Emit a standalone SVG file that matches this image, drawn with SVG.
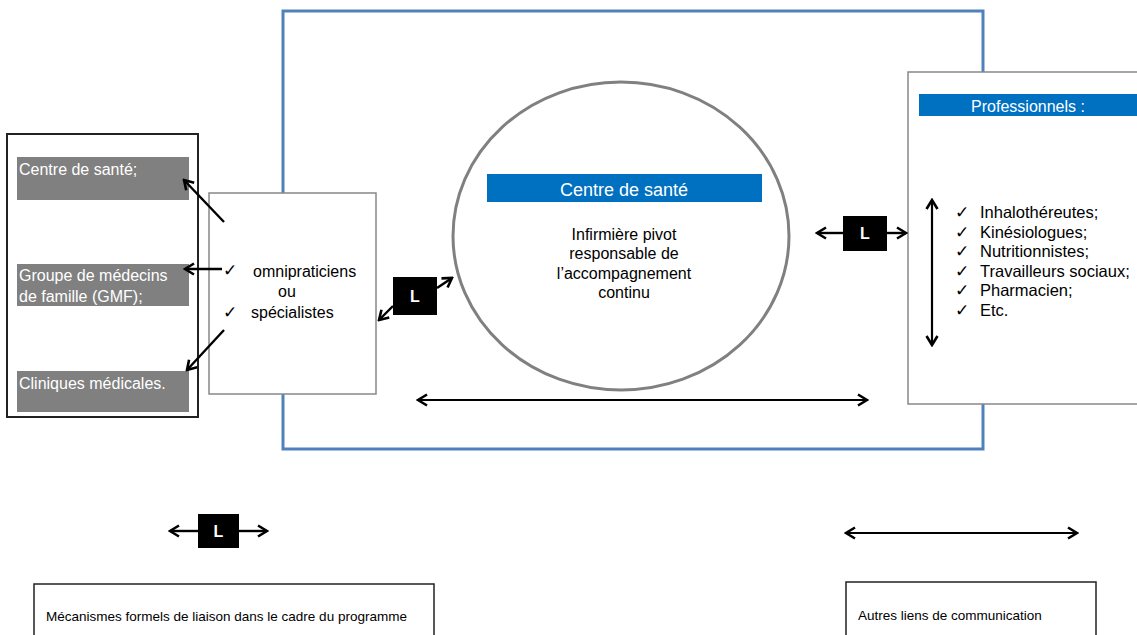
<svg xmlns="http://www.w3.org/2000/svg" width="1137" height="635" viewBox="0 0 1137 635">
<defs>
<marker id="ah" viewBox="0 0 14 14" refX="12" refY="7" markerWidth="14" markerHeight="14" markerUnits="userSpaceOnUse" orient="auto-start-reverse">
<path d="M3,1.5 L12,7 L3,12.5" fill="none" stroke="#000" stroke-width="2.6" stroke-linejoin="miter"/>
</marker>
<style>
text{font-family:"Liberation Sans",Arial,sans-serif;}
.arr{stroke:#000;stroke-width:2.4;fill:none;marker-end:url(#ah);}
.darr{stroke:#000;stroke-width:2.2;fill:none;marker-start:url(#ah);marker-end:url(#ah);}
.gray{fill:#808080;}
.wt{fill:#fff;font-size:16px;}
.lbox{fill:#000;}
.lt{fill:#fff;font-size:16px;font-weight:bold;text-anchor:middle;}
.chk{font-family:"DejaVu Sans",sans-serif;font-size:17px;fill:#000;}
.bar{fill:#0070c0;}
</style>
</defs>
<rect width="1137" height="635" fill="#fff"/>
<g id="frame">
<rect x="283" y="11" width="700" height="438" fill="none" stroke="#4f81bd" stroke-width="3"/>
</g>
<g id="left-group">
<rect x="7" y="134" width="191" height="283" fill="#fff" stroke="#222" stroke-width="2"/>
<rect class="gray" x="17" y="157" width="172" height="43"/>
<text class="wt" x="19" y="175">Centre de santé;</text>
<rect class="gray" x="17" y="264" width="172" height="42"/>
<text class="wt" x="19" y="281">Groupe de médecins</text>
<text class="wt" x="19" y="302">de famille (GMF);</text>
<rect class="gray" x="17" y="371" width="172" height="41"/>
<text class="wt" x="19" y="389">Cliniques médicales.</text>
</g>
<g id="medecins">
<rect x="209" y="193" width="167" height="201" fill="#fff" stroke="#888" stroke-width="1.5"/>
<text class="chk" x="223" y="276">✓</text>
<text x="253" y="277" font-size="16" fill="#000">omnipraticiens</text>
<text x="287" y="297" font-size="16" fill="#000" text-anchor="middle">ou</text>
<text class="chk" x="223" y="318">✓</text>
<text x="251" y="318" font-size="16" fill="#000">spécialistes</text>
</g>
<g id="centre">
<ellipse cx="621" cy="236" rx="168" ry="154" fill="#fff" stroke="#808080" stroke-width="3"/>
<rect class="bar" x="487" y="174" width="275" height="28"/>
<text x="624" y="196" font-size="18" fill="#fff" text-anchor="middle">Centre de santé</text>
<text x="624" y="240" font-size="16" fill="#000" text-anchor="middle">Infirmière pivot</text>
<text x="624" y="259" font-size="16" fill="#000" text-anchor="middle">responsable de</text>
<text x="624" y="279" font-size="16" fill="#000" text-anchor="middle">l’accompagnement</text>
<text x="624" y="298" font-size="16" fill="#000" text-anchor="middle">continu</text>
</g>
<g id="professionnels">
<rect x="908" y="72" width="240" height="332" fill="#fff" stroke="#888" stroke-width="1.5"/>
<rect class="bar" x="919" y="94" width="218" height="22"/>
<text x="1028" y="112" font-size="16" fill="#fff" text-anchor="middle">Professionnels :</text>
<g font-size="16.5" fill="#000">
<text class="chk" x="955" y="218">✓</text><text x="980" y="218">Inhalothéreutes;</text>
<text class="chk" x="955" y="237.5">✓</text><text x="980" y="237.5">Kinésiologues;</text>
<text class="chk" x="955" y="257">✓</text><text x="980" y="257">Nutritionnistes;</text>
<text class="chk" x="955" y="276.5">✓</text><text x="980" y="276.5">Travailleurs sociaux;</text>
<text class="chk" x="955" y="296">✓</text><text x="980" y="296">Pharmacien;</text>
<text class="chk" x="955" y="315.5">✓</text><text x="980" y="315.5">Etc.</text>
</g>
</g>
<g id="L-mid">
<rect class="lbox" x="393" y="277" width="44" height="38"/>
<text class="lt" x="415" y="302">L</text>
</g>
<g id="L-right">
<rect class="lbox" x="843" y="216" width="44" height="35"/>
<text class="lt" x="865" y="239">L</text>
</g>
<g id="legend-formal">
<rect class="lbox" x="198" y="514" width="41" height="34"/>
<text class="lt" x="218.5" y="537">L</text>
<rect x="34" y="584" width="400" height="70" fill="#fff" stroke="#222" stroke-width="1.5"/>
<text x="46" y="621" font-size="13.5" fill="#000">Mécanismes formels de liaison dans le cadre du programme</text>
</g>
<g id="legend-other">
<rect x="846" y="582" width="250" height="70" fill="#fff" stroke="#222" stroke-width="1.5"/>
<text x="858" y="620" font-size="13.5" fill="#000">Autres liens de communication</text>
</g>
<g id="connectors">
<line class="arr" x1="224" y1="222" x2="184" y2="180"/>
<line class="arr" x1="222" y1="269" x2="185" y2="269"/>
<line class="arr" x1="224" y1="330" x2="187" y2="370"/>
<line class="arr" x1="437" y1="288" x2="452" y2="278"/>
<line class="arr" x1="393" y1="306" x2="379" y2="320"/>
<line class="arr" x1="843" y1="233" x2="817" y2="233"/>
<line class="arr" x1="887" y1="233" x2="906" y2="233"/>
<line class="darr" x1="932" y1="200" x2="932" y2="345"/>
<line class="darr" x1="418" y1="400" x2="867" y2="400"/>
<line class="arr" x1="198" y1="531" x2="170" y2="531"/>
<line class="arr" x1="239" y1="531" x2="267" y2="531"/>
<line class="darr" x1="846" y1="533" x2="1077" y2="533"/>
</g>
</svg>
